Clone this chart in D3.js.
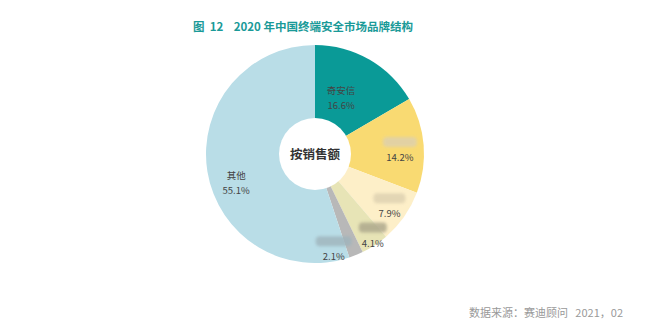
<!DOCTYPE html>
<html>
<head>
<meta charset="utf-8">
<script src="https://cdn.jsdelivr.net/npm/d3@7"></script>
<style>
  body { margin: 0; background: #fff; }
  svg { display: block; font-family: "Noto Sans CJK SC", "Open Sans", sans-serif; }
</style>
</head>
<body>
<svg width="652" height="329"></svg>
<script>
// brand share by sales, 2020
var brands = ["奇安信", "", "", "", "", "其他"];
var shares = [16.6, 14.2, 7.9, 4.1, 2.1, 55.1];
var colors = ["#0a9a97", "#f9da72", "#fdefc8", "#e7e4b6", "#b8b8b8", "#b9dde7"];
// names hidden in the source image (drawn as blurred blocks)
var hiddenWidth = [0, 34, 32, 28, 36, 0];

var svg = d3.select("svg"),
  cx = 315, cy = 154,
  radius = 109,
  g = svg.append("g").attr("transform", "translate(" + cx + "," + cy + ")");

var blur = svg.append("defs").append("filter").attr("id", "blur")
  .attr("x", "-30%").attr("y", "-60%").attr("width", "160%").attr("height", "220%");
blur.append("feGaussianBlur").attr("stdDeviation", 1.6);

svg.append("text")
  .attr("x", 193).attr("y", 31)
  .attr("fill", "#1a9a98")
  .style("font-size", "11.5px").style("font-weight", "bold")
  .attr("xml:space", "preserve")
  .text("图  12    2020 年中国终端安全市场品牌结构");

var pie = d3.pie().sort(null).value(function(d) { return d; });
var arcs = pie(shares);
var arc = d3.arc().innerRadius(0).outerRadius(radius);

g.selectAll("path.slice")
  .data(arcs)
  .enter().append("path")
  .attr("class", "slice")
  .attr("fill", function(d, i) { return colors[i]; })
  .attr("d", arc);

g.append("circle").attr("r", 36).attr("fill", "#fff");
g.append("text")
  .attr("y", 4.5)
  .attr("text-anchor", "middle")
  .attr("fill", "#333")
  .style("font-size", "12.5px").style("font-weight", "bold")
  .text("按销售额");

// label placement: radius and angle tweak per slice (Excel-like positions)
var labelR = [62, 85, 91, 100, 97, 84];
var labelDA = [-5, 2, 0, -2, 11, -11];

var fmt = d3.format(".1f");
var lab = g.selectAll("g.lab")
  .data(arcs)
  .enter().append("g")
  .attr("class", "lab")
  .attr("transform", function(d, i) {
    var a = (d.startAngle + d.endAngle) / 2 + labelDA[i] * Math.PI / 180;
    return "translate(" + (labelR[i] * Math.sin(a)) + "," + (-labelR[i] * Math.cos(a)) + ")";
  });

lab.append("text")
  .attr("y", -4)
  .attr("text-anchor", "middle")
  .attr("fill", "#444")
  .style("font-size", "9.5px")
  .text(function(d, i) { return brands[i]; });

lab.filter(function(d, i) { return hiddenWidth[i] > 0; })
  .append("rect")
  .attr("x", function(d) { return -hiddenWidth[arcs.indexOf(d)] / 2; })
  .attr("y", -13)
  .attr("width", function(d) { return hiddenWidth[arcs.indexOf(d)]; })
  .attr("height", 10)
  .attr("rx", 4)
  .attr("fill", function(d) { var i = arcs.indexOf(d); return i == 3 ? "#aaa58a" : i == 4 ? "#9fb4bc" : "#ddd0b0"; })
  .attr("opacity", 0.8)
  .attr("filter", "url(#blur)");

lab.append("text")
  .attr("y", 11)
  .attr("text-anchor", "middle")
  .attr("fill", "#444")
  .style("font-size", "9.5px")
  .text(function(d) { return fmt(d.data) + "%"; });

svg.append("text")
  .attr("x", 623).attr("y", 317)
  .attr("text-anchor", "end")
  .attr("fill", "#999")
  .style("font-size", "11px")
  .attr("xml:space", "preserve")
  .text("数据来源：赛迪顾问   2021，02");
</script>
</body>
</html>
